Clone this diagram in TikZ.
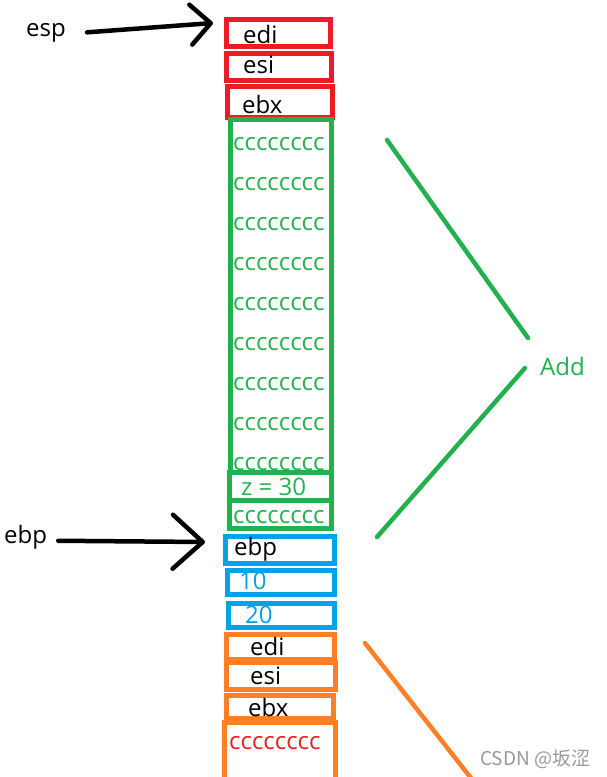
\documentclass[tikz,border=0pt]{standalone}
\usepackage{fontspec}
\setmainfont{Open Sans}
\newfontfamily\cjk{Noto Sans CJK SC}
\usepackage{xcolor}
\usetikzlibrary{arrows.meta}
\definecolor{pred}{RGB}{237,28,36}
\definecolor{pgreen}{RGB}{34,177,76}
\definecolor{pblue}{RGB}{0,162,232}
\definecolor{porange}{RGB}{255,127,39}
\tikzset{every node/.append style={font=\fontsize{24}{28}\selectfont, inner sep=0pt, anchor=base west}}

\begin{document}
\begin{tikzpicture}[x=1pt, y=-1pt,
    redbox/.style={draw=pred, line width=5pt},
    greenbox/.style={draw=pgreen, line width=5pt},
    bluebox/.style={draw=pblue, line width=5pt},
    orangebox/.style={draw=porange, line width=5pt},
    ptr/.style={line width=4.5pt, line cap=round, -{Straight Barb[length=20pt, width=40pt, round]}},
    addline/.style={line width=4.5pt, line cap=round}]
    \useasboundingbox (0,0) rectangle (607,777);
    \clip (0,0) rectangle (607,777);
    % saved registers (top of stack)
    \draw[redbox] (226,19) rectangle (330,46);
    \draw[redbox] (226,53) rectangle (331,80);
    \draw[redbox] (227,86) rectangle (332,117);
    \node (ediTop) at (243,43) {edi};
    \node (esiTop) at (243,73) {esi};
    \node (ebxTop) at (242,113) {ebx};
    % local area filled with cc
    \draw[greenbox] (230,119) rectangle (331,472);
    \foreach \i in {1,...,9}
        \node[text=pgreen] (cc\i) at (233,{110+40*\i}) {cccccccc};
    \draw[greenbox] (229,472) rectangle (331,500);
    \draw[greenbox] (229,500) rectangle (331,528);
    \node[text=pgreen] (zval) at (241,495) {z = 30};
    \node[text=pgreen] (ccLocal) at (233,523) {cccccccc};
    % frame pointer and arguments
    \draw[bluebox] (225.5,536.5) rectangle (334.5,563.5);
    \draw[bluebox] (227.5,570.5) rectangle (334.5,594.5);
    \draw[bluebox] (228.5,603.5) rectangle (334.5,627.5);
    \node (ebpBox) at (234,555) {ebp};
    \node[text=pblue] (argA) at (239,589) {10};
    \node[text=pblue] (argB) at (245,623) {20};
    % caller frame
    \draw[orangebox] (226.5,634.5) rectangle (334.5,659.5);
    \draw[orangebox] (226.5,662.5) rectangle (335.5,689.5);
    \draw[orangebox] (226.5,695.5) rectangle (333.5,718.5);
    \draw[orangebox] (224.5,790) -- (224.5,722.5) -- (335.5,722.5) -- (335.5,790);
    \node (ediLow) at (250,655) {edi};
    \node (esiLow) at (250,684) {esi};
    \node (ebxLow) at (248,716) {ebx};
    \node[text=pred] (ccLow) at (229,749) {cccccccc};
    % pointers
    \node (esp) at (26,36) {esp};
    \coordinate (espTip) at (213,23);
    \draw[ptr] ([xshift=21pt]esp.east) -- (espTip);
    \node (ebpLabel) at (4,543) {ebp};
    \coordinate (ebpTip) at (205,542);
    \draw[ptr, -{Straight Barb[length=30pt, width=54pt, round]}] ([xshift=11pt, yshift=-4pt]ebpLabel.east) -- (ebpTip);
    % Add bracket
    \node[text=pgreen] (add) at (540,375) {Add};
    \coordinate (addTopA) at (387,140);
    \coordinate (addTopB) at (528,338);
    \coordinate (addLowA) at (525,368);
    \coordinate (addLowB) at (377,537);
    \draw[addline, pgreen] (addTopA) -- (addTopB);
    \draw[addline, pgreen] (addLowA) -- (addLowB);
    \coordinate (ornA) at (365,643);
    \coordinate (ornB) at (478,787);
    \draw[addline, porange] (ornA) -- (ornB);
    \node[text=black!40, font=\cjk\fontsize{19}{22}\selectfont] (mark) at (480,765) {CSDN @坂涩};
\end{tikzpicture}
\end{document}
